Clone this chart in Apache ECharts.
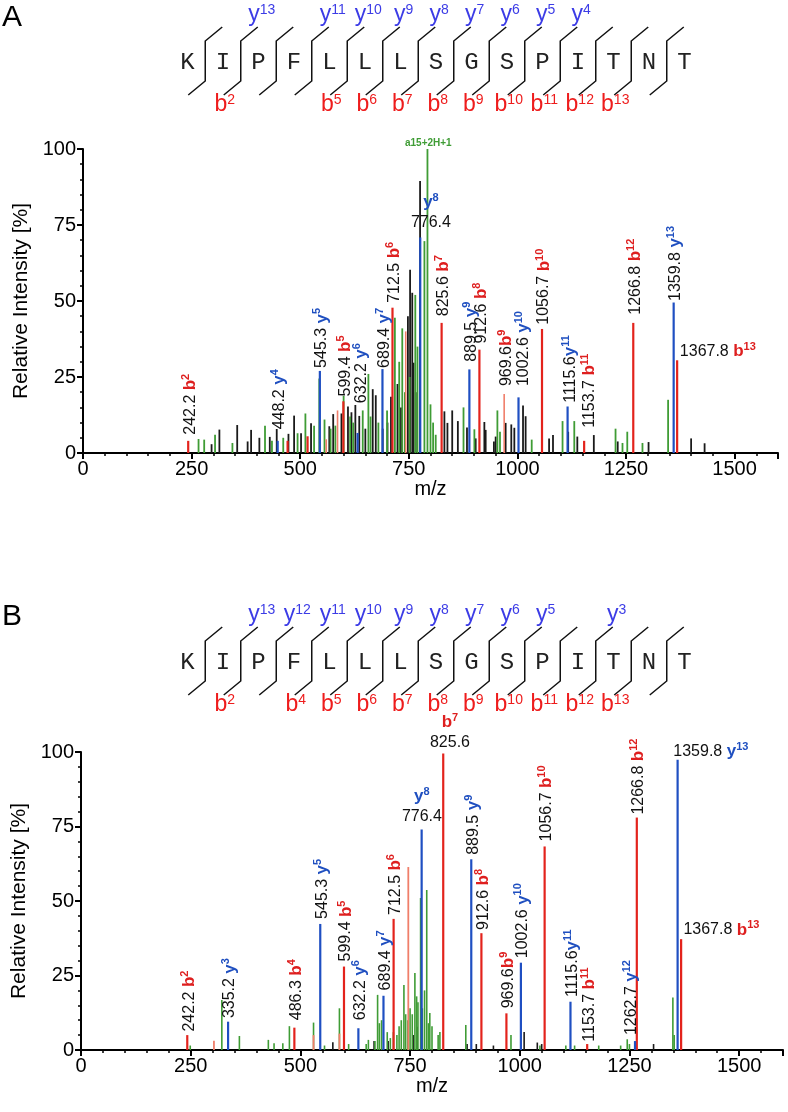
<!DOCTYPE html>
<html><head><meta charset="utf-8">
<script src="https://cdn.jsdelivr.net/npm/echarts@6/dist/echarts.min.js"></script>
<style>html,body{margin:0;padding:0;background:#fff}#c{width:788px;height:1112px}</style>
</head><body><div id="c"></div>
<script>
// ---------- data ----------
const sequence = ['K','I','P','F','L','L','L','S','G','S','P','I','T','N','T'];
const A_bIons = [2,5,6,7,8,9,10,11,12,13];
const A_yIons = [13,11,10,9,8,7,6,5,4];
const B_bIons = [2,4,5,6,7,8,9,10,11,12,13];
const B_yIons = [13,12,11,10,9,8,7,6,5,3];
const xTicks = [0,250,500,750,1000,1250,1500];
const yTicks = [0,25,50,75,100];

const A_black = [[296,2.9],[314,7.7],[355,9.2],[379,3.8],[387,7.6],[406,5],[430,5.3],[446,7.9],[473,6.3],[486,12.3],[502,6.5],[525,9.8],[567,8.8],[576,12.8],[595,13],[610,15.3],[618,13.4],[627,15.8],[636,12.2],[650,8],[667,21],[674,19],[690,8],[701,10],[709,18.5],[724,22.7],[732,15],[748,45],[753,60.3],[758,52.7],[761,29.7],[766,20],[776,89.5],[832,13.7],[839,9.9],[850,14],[863,10.5],[884,8.4],[904,4.8],[924,10.2],[927,7.6],[946,3.8],[950,5.4],[973,9.9],[986,9.4],[993,8.3],[1013,15.6],[1019,12.1],[1073,4.8],[1082,5.9],[1117,7],[1138,5.4],[1176,5.9],[1231,3.8],[1302,3.6],[1400,4.8],[1431,3.2]];
const A_green = [[266,4.6],[279,4.4],[304,6],[344,3.3],[419,9],[435,4],[461,5],[494,6.5],[512,13],[532,9],[544,24.5],[556,11],[570,8],[581,9],[600,18.8],[615,12],[622,10],[644,14],[657,26],[662,12],[680,10],[700,14],[718,44.5],[728,30],[735,41],[741,20],[752,25],[765,52],[770,35],[786,69.7],[793,100],[800,16],[806,10],[812,6],[876,15],[901,7.8],[954,14],[960,7],[1033,4.4],[1104,10.5],[1131,10.5],[1226,8],[1242,3.3],[1253,7],[1288,3.3],[1347,17.5]];
const A_red = [[242.2,4],[471,4],[517,5.5],[599.4,17],[712.5,47.8],[825.6,42.8],[912.6,34],[1056.7,40.8],[1153.7,4],[1266.8,42.8],[1367.8,30.5]];
const A_salmon = [[560,4.5],[586,14],[743,40],[969.6,19.4]];
const A_blue = [[448.2,4],[545.3,27],[632.2,6.6],[689.4,27.6],[776.4,70.9],[889.5,27.5],[1002.6,18.3],[1115.6,15.3],[1359.8,49.5]];

const B_black = [[574,2.6],[668,3],[700,3],[757,5],[766,7.8],[880,2],[901,2],[940,1.5],[1010,6],[1040,2.5],[1050,2],[1305,2]];
const B_green = [[249,1.5],[321,16.8],[361,4.7],[427,3.4],[440,2.3],[460,2.3],[475,8],[530,9.2],[555,1.5],[589,14],[610,2],[650,2],[655,3.4],[670,3],[676,18.5],[680,9],[685,10],[698,6],[705,4],[712,6],[720,5],[725,8],[730,10],[736,21.8],[740,12],[745,10],[750,14],[755,12],[761,25.8],[765,18],[768,16],[774,51],[778,14],[783,20],[788,53.7],[792,9],[795,12.4],[800,8],[814,5],[818,6],[877,8.4],[980,5],[1046,1.5],[1105,1.5],[1125,1.5],[1180,1.5],[1230,1.5],[1245,3.6],[1250,2],[1349,17.6],[1352,5]];
const B_red = [[242.2,5],[486.3,7.5],[599.4,28],[712.5,44],[825.6,99.5],[912.6,39.2],[969.6,12.3],[1056.7,68.3],[1153.7,2],[1266.8,78],[1367.8,37.2]];
const B_salmon = [[303,3.1],[530,5],[589,5.5],[746,61.4]];
const B_blue = [[335.2,9.5],[545.3,42.3],[632.2,7.3],[689.4,18.2],[776.4,74],[889.5,64],[1002.6,29.3],[1115.6,16.2],[1262.7,3],[1359.8,97.4]];

// [m/z anchor, intensity anchor, value text, ion type, ion number, kind]
const A_labels = [
 [242.2,6,'242.2','b',2,'v'],[448.2,7.8,'448.2','y',4,'v'],[545.3,28,'545.3','y',5,'v'],
 [599.4,18.6,'599.4','b',5,'v'],[636,16.4,'632.2','y',6,'v'],[689.4,28,'689.4','y',7,'v'],
 [712.5,49.4,'712.5','b',6,'v'],[801,72.5,'776.4','y',8,'s'],[825.6,45,'825.6','b',7,'v'],
 [889.5,30,'889.5','y',9,'v'],[912.6,36,'912.6','b',8,'v'],[969.6,22,'969.6','b',9,'vt'],
 [1010,22,'1002.6','y',10,'v'],[1056.7,42.2,'1056.7','b',10,'v'],[1118,16.5,'1115.6','y',11,'vt'],
 [1162,8.3,'1153.7','b',11,'v'],[1266.8,45.5,'1266.8','b',12,'v'],[1359.8,50,'1359.8','y',13,'v'],
 [1374,33.4,'1367.8','b',13,'h']
];
const A_annot = [[795,102,'a15+2H+1']];
const B_labels = [
 [242.2,6.2,'242.2','b',2,'v'],[335.2,10.7,'335.2','y',3,'v'],[486.3,10,'486.3','b',4,'v'],
 [545.3,44,'545.3','y',5,'v'],[599.4,29.7,'599.4','b',5,'v'],[632.2,10,'632.2','y',6,'v'],
 [689.4,20,'689.4','y',7,'v'],[712.5,45.3,'712.5','b',6,'v'],[777,75,'776.4','y',8,'s'],
 [841,99.8,'825.6','b',7,'s'],[889.5,65.5,'889.5','y',9,'v'],[912.6,40.3,'912.6','b',8,'v'],
 [969.6,14,'969.6','b',9,'vt'],[1002.6,30.8,'1002.6','y',10,'v'],[1056.7,70,'1056.7','b',10,'v'],
 [1115.6,17.8,'1115.6','y',11,'vt'],[1155,2.8,'1153.7','b',11,'v'],[1250,5,'1262.7','y',12,'v'],
 [1266.8,79,'1266.8','b',12,'v'],[1350,100.2,'1359.8','y',13,'h'],[1373,40.3,'1367.8','b',13,'h']
];

// ---------- styles ----------
const FONT = '"Liberation Sans", Arial, sans-serif';
const C = {black:'#1a1a1a', green:'#3f9c35', red:'#e3231c', salmon:'#f07e6a', blue:'#1f4fc2'};
const LBL = {b:'#de1f1f', y:'#1f4fc0'};
const RICH = {
  n:{fontSize:16, fontFamily:FONT, fill:'#111', color:'#111', lineHeight:20},
  b:{fontSize:17, fontWeight:'bold', fontFamily:FONT, fill:LBL.b, color:LBL.b, lineHeight:20},
  bs:{fontSize:11, fontWeight:'bold', fontFamily:FONT, fill:LBL.b, color:LBL.b, verticalAlign:'top', lineHeight:12},
  y:{fontSize:17, fontWeight:'bold', fontFamily:FONT, fill:LBL.y, color:LBL.y, lineHeight:20},
  ys:{fontSize:11, fontWeight:'bold', fontFamily:FONT, fill:LBL.y, color:LBL.y, verticalAlign:'top', lineHeight:12}
};

function peakSeries(g, data, color, width){
  return {type:'custom', xAxisIndex:g, yAxisIndex:g, data:data, silent:true, clip:false,
    encode:{x:0,y:1},
    renderItem:function(params, api){
      const m = api.value(0), v = api.value(1);
      const a = api.coord([m,0]), b = api.coord([m,v]);
      return {type:'line', shape:{x1:a[0],y1:a[1],x2:b[0],y2:b[1]}, style:{stroke:color, lineWidth:width}};
    }};
}
function labelSeries(g, labels){
  return {type:'custom', xAxisIndex:g, yAxisIndex:g, data:labels.map(l=>[l[0],l[1]]), silent:true, clip:false, z:5,
    encode:{x:0,y:1},
    renderItem:function(params, api){
      const l = labels[params.dataIndex];
      const p = api.coord([api.value(0), api.value(1)]);
      const ion = '{'+l[3]+'|'+l[3]+'}{'+l[3]+'s|'+l[4]+'}';
      if (l[5]==='v' || l[5]==='vt'){
        const t = '{n|'+l[2]+'}'+(l[5]==='v'?'{n| }':'')+ion;
        return {type:'text', x:p[0]+2, y:p[1], rotation:Math.PI/2,
          style:{text:t, rich:RICH, align:'left', verticalAlign:'middle', textAlign:'left', textVerticalAlign:'middle'}};
      } else if (l[5]==='h'){
        const t = '{n|'+l[2]+'}{n| }'+ion;
        return {type:'text', x:p[0], y:p[1],
          style:{text:t, rich:RICH, align:'left', verticalAlign:'middle', textAlign:'left', textVerticalAlign:'middle'}};
      } else {
        const t = ion+'\n{n|'+l[2]+'}';
        return {type:'text', x:p[0], y:p[1],
          style:{text:t, rich:RICH, align:'center', verticalAlign:'bottom', textAlign:'center', textVerticalAlign:'bottom'}};
      }
    }};
}
function annotSeries(g, items){
  return {type:'custom', xAxisIndex:g, yAxisIndex:g, data:items.map(l=>[l[0],l[1]]), silent:true, clip:false, z:5,
    encode:{x:0,y:1},
    renderItem:function(params, api){
      const p = api.coord([api.value(0), api.value(1)]);
      return {type:'text', x:p[0], y:p[1], style:{text:items[params.dataIndex][2], fill:C.green,
        font:'bold 10px '+FONT, align:'center', verticalAlign:'middle', textAlign:'center', textVerticalAlign:'middle'}};
    }};
}

function xAxis(g){
  return {type:'value', gridIndex:g, min:0, max:1600, interval:250,
    axisLine:{show:true, onZero:false, lineStyle:{color:'#000', width:2}},
    axisTick:{show:true, length:6, lineStyle:{color:'#000', width:2}},
    minorTick:{show:true, splitNumber:5, length:3, lineStyle:{color:'#000', width:1.5}},
    splitLine:{show:false}, minorSplitLine:{show:false},
    axisLabel:{fontSize:20, color:'#000', fontFamily:FONT, margin:6, showMaxLabel:false,
      formatter:v=> xTicks.includes(v) ? String(v) : ''},
    name:'m/z', nameLocation:'middle', nameGap:25,
    nameTextStyle:{fontSize:20, color:'#000', fontFamily:FONT}};
}
function yAxis(g, gap){
  return {type:'value', gridIndex:g, min:0, max:100, interval:25,
    axisLine:{show:true, lineStyle:{color:'#000', width:2}},
    axisTick:{show:true, length:6, lineStyle:{color:'#000', width:2}},
    minorTick:{show:true, splitNumber:5, length:3, lineStyle:{color:'#000', width:1.5}},
    splitLine:{show:false}, minorSplitLine:{show:false},
    axisLabel:{fontSize:20, color:'#000', fontFamily:FONT, margin:7,
      formatter:v=> yTicks.includes(v) ? String(v) : ''},
    name:'Relative Intensity [%]', nameLocation:'middle', nameGap:gap,
    nameTextStyle:{fontSize:21, color:'#000', fontFamily:FONT}};
}

// peptide fragmentation diagram
function peptide(dy, bIons, yIons){
  const els = [];
  const x0 = 187.5, step = 35.5;
  sequence.forEach((aa,i)=>{
    els.push({type:'text', x:x0+i*step, y:dy+63, silent:true,
      style:{text:aa, font:'24px "Liberation Mono", "DejaVu Sans Mono", monospace', fill:'#222',
        align:'center', verticalAlign:'middle', textAlign:'center', textVerticalAlign:'middle'}});
  });
  const n = sequence.length;
  for (let k=0;k<n-1;k++){
    const sx = x0 + step/2 + k*step;
    els.push({type:'polyline', silent:true,
      shape:{points:[[sx-17,dy+95],[sx,dy+81],[sx,dy+41],[sx+17,dy+27]]},
      style:{stroke:'#111', lineWidth:1.5, fill:null}});
    const b = k+1, y = n-(k+1);
    if (bIons.includes(b)) els.push({type:'text', x:sx-16, y:dy+105, silent:true,
      style:{text:'{m|b}{s|'+b+'}', align:'center', verticalAlign:'middle', textAlign:'center', textVerticalAlign:'middle',
        rich:{m:{fontSize:23, fontFamily:FONT, fill:'#ee1c1c', lineHeight:24}, s:{fontSize:14, fontFamily:FONT, fill:'#ee1c1c', verticalAlign:'top', lineHeight:14}}}});
    if (yIons.includes(y)) els.push({type:'text', x:sx+21, y:dy+15, silent:true,
      style:{text:'{m|y}{s|'+y+'}', align:'center', verticalAlign:'middle', textAlign:'center', textVerticalAlign:'middle',
        rich:{m:{fontSize:23, fontFamily:FONT, fill:'#3c3ce6', lineHeight:24}, s:{fontSize:14, fontFamily:FONT, fill:'#3c3ce6', verticalAlign:'top', lineHeight:14}}}});
  }
  return els;
}

const graphics = [].concat(
  [{type:'text', x:12, y:18, silent:true, style:{text:'A', font:'30px '+FONT, fill:'#000', align:'center', verticalAlign:'middle', textAlign:'center', textVerticalAlign:'middle'}},
   {type:'text', x:12, y:617, silent:true, style:{text:'B', font:'30px '+FONT, fill:'#000', align:'center', verticalAlign:'middle', textAlign:'center', textVerticalAlign:'middle'}}],
  peptide(0, A_bIons, A_yIons),
  peptide(600, B_bIons, B_yIons)
);

const chart = echarts.init(document.getElementById('c'), null, {renderer:'canvas'});
chart.setOption({
  animation:false,
  backgroundColor:'#fff',
  grid:[{left:83, top:149, width:695, height:304}, {left:81, top:752, width:702, height:298}],
  xAxis:[xAxis(0), xAxis(1)],
  yAxis:[yAxis(0,46), yAxis(1,44)],
  graphic:graphics,
  series:[
    peakSeries(0, A_black, C.black, 1.8), peakSeries(0, A_green, C.green, 1.8),
    peakSeries(0, A_salmon, C.salmon, 1.6), peakSeries(0, A_red, C.red, 2.2), peakSeries(0, A_blue, C.blue, 2.2),
    labelSeries(0, A_labels), annotSeries(0, A_annot),
    peakSeries(1, B_black, C.black, 1.6), peakSeries(1, B_green, C.green, 1.6),
    peakSeries(1, B_salmon, C.salmon, 1.8), peakSeries(1, B_red, C.red, 2.2), peakSeries(1, B_blue, C.blue, 2.2),
    labelSeries(1, B_labels)
  ]
});
</script></body></html>
